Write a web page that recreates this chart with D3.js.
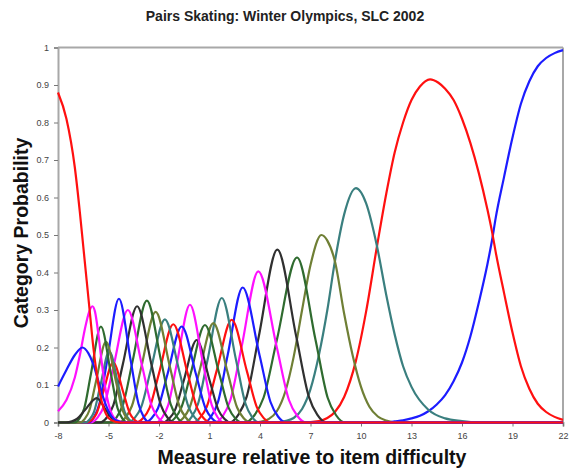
<!DOCTYPE html>
<html><head><meta charset="utf-8">
<script src="https://cdn.jsdelivr.net/npm/d3@7"></script>
<style>body{margin:0;background:#fff;} svg{display:block;}</style>
</head><body>
<svg id="chart" width="569" height="468"></svg>
<script>
const chartTitle = "Pairs Skating: Winter Olympics, SLC 2002";
const xTitle = "Measure relative to item difficulty";
const yTitle = "Category Probability";
const xTicks = [-8,-5,-2,1,4,7,10,13,16,19,22];
const xTickLabels = ["-8","-5","-2","1","4","7","10","13","16","19","22"];
const yTicks = [0,0.1,0.2,0.3,0.4,0.5,0.6,0.7,0.8,0.9,1];
const yTickLabels = ["0","0.1","0.2","0.3","0.4","0.5","0.6","0.7","0.8","0.9","1"];
const categories = [0,1,2,3,4,5,6,7,8,9,10,11,12,13,14,15,16,17,18,19,20,21,22,23,24,25,26,27,28,29];
const colorCycle = ["#ff1010","#1c1cff","#ff10ff","#303030","#2f6b2f","#6f7f35","#3a7f7f"];

// category probability curves: [measure, probability]
const cat0 = [[-8,.88],[-7.5,.81],[-7,.68],[-6.7,.56],[-6.5,.47],[-6.3,.38],[-6.1,.29],[-5.9,.2],[-5.7,.13],[-5.5,.075],[-5.3,.04],[-5,.012],[-4.6,.002],[-4.2,0],[22,0]];
const cat1 = [[-8,.096],[-7.5,.14],[-7,.18],[-6.55,.2],[-6.2,.185],[-5.9,.155],[-5.6,.11],[-5.3,.065],[-5,.03],[-4.7,.01],[-4.3,.002],[-3.9,0],[22,0]];
const cat2 = [[-8,.03],[-7.5,.06],[-7,.12],[-6.7,.18],[-6.4,.25],[-6.15,.295],[-5.96,.31],[-5.8,.295],[-5.6,.235],[-5.4,.16],[-5.2,.095],[-5,.05],[-4.8,.022],[-4.5,.006],[-4.1,0],[22,0]];
const cat3 = [[-8,0],[-7.52,0],[-7.17,.003],[-6.86,.01],[-6.4,.033],[-5.7,.065],[-5.15,.033],[-4.79,.01],[-4.55,.003],[-4.27,0],[22,0]];
const cat4 = [[-8,0],[-7.01,0],[-6.71,.0115],[-6.44,.038],[-6.05,.128],[-5.45,.256],[-4.85,.128],[-4.46,.038],[-4.19,.0115],[-3.89,0],[22,0]];
const cat5 = [[-8,0],[-6.71,0],[-6.41,.0097],[-6.14,.032],[-5.75,.108],[-5.15,.215],[-4.55,.108],[-4.16,.032],[-3.89,.0097],[-3.59,0],[22,0]];
const cat6 = [[-8,0],[-6.38,0],[-6.11,.0086],[-5.86,.0285],[-5.5,.095],[-4.95,.19],[-4.4,.095],[-4.04,.0285],[-3.79,.0086],[-3.52,0],[22,0]];
const cat7 = [[-8,0],[-6.28,0],[-5.98,.0072],[-5.71,.024],[-5.32,.08],[-4.72,.16],[-4.12,.08],[-3.73,.024],[-3.46,.0072],[-3.16,0],[22,0]];
const cat8 = [[-8,0],[-6.2,0],[-5.85,.015],[-5.54,.05],[-5.08,.165],[-4.38,.33],[-3.68,.165],[-3.22,.05],[-2.91,.015],[-2.56,0],[22,0]];
const cat9 = [[-8,0],[-6.06,0],[-5.64,.0135],[-5.26,.045],[-4.7,.15],[-3.85,.3],[-3,.15],[-2.44,.045],[-2.06,.0135],[-1.64,0],[22,0]];
const cat10 = [[-8,0],[-5.51,0],[-5.09,.014],[-4.71,.0465],[-4.15,.155],[-3.3,.31],[-2.45,.155],[-1.89,.0465],[-1.51,.014],[-1.09,0],[22,0]];
const cat11 = [[-8,0],[-4.93,0],[-4.51,.0146],[-4.13,.049],[-3.57,.163],[-2.72,.325],[-1.87,.163],[-1.31,.049],[-.93,.0146],[-.51,0],[22,0]];
const cat12 = [[-8,0],[-4.41,0],[-3.99,.0133],[-3.61,.044],[-3.05,.148],[-2.2,.295],[-1.35,.148],[-.79,.044],[-.41,.0133],[.01,0],[22,0]];
const cat13 = [[-8,0],[-3.86,0],[-3.44,.0124],[-3.06,.041],[-2.5,.138],[-1.65,.275],[-.8,.138],[-.24,.041],[.14,.0124],[.56,0],[22,0]];
const cat14 = [[-8,0],[-3.36,0],[-2.94,.0118],[-2.56,.039],[-2,.131],[-1.15,.262],[-.3,.131],[.26,.039],[.64,.0118],[1.06,0],[22,0]];
const cat15 = [[-8,0],[-2.86,0],[-2.44,.0115],[-2.06,.038],[-1.5,.128],[-.65,.256],[.2,.128],[.76,.038],[1.14,.0115],[1.56,0],[22,0]];
const cat16 = [[-8,0],[-2.19,0],[-1.8,.014],[-1.45,.047],[-.94,.157],[-.16,.314],[.62,.157],[1.13,.047],[1.48,.014],[1.87,0],[22,0]];
const cat17 = [[-8,0],[-1.79,0],[-1.4,.0099],[-1.05,.033],[-.54,.11],[.24,.22],[1.02,.11],[1.53,.033],[1.88,.0099],[2.27,0],[22,0]];
const cat18 = [[-8,0],[-1.48,0],[-1.06,.0117],[-.68,.039],[-.12,.13],[.73,.26],[1.58,.13],[2.14,.039],[2.52,.0117],[2.94,0],[22,0]];
const cat19 = [[-8,0],[-.98,0],[-.56,.0119],[-.18,.04],[.38,.133],[1.23,.265],[2.08,.133],[2.64,.04],[3.02,.0119],[3.44,0],[22,0]];
const cat20 = [[-8,0],[-.48,0],[-.06,.015],[.32,.05],[.88,.166],[1.73,.332],[2.58,.166],[3.14,.05],[3.52,.015],[3.94,0],[22,0]];
const cat21 = [[-8,0],[-.02,0],[.43,.0123],[.83,.041],[1.42,.137],[2.32,.274],[3.22,.137],[3.81,.041],[4.21,.0123],[4.66,0],[22,0]];
const cat22 = [[-8,0],[.66,0],[1.1,.016],[1.5,.054],[2.08,.18],[2.97,.36],[3.97,.18],[4.63,.054],[5.07,.016],[5.57,0],[22,0]];
const cat23 = [[-8,0],[1.3,0],[1.8,.018],[2.24,.06],[2.9,.2],[3.9,.403],[5,.2],[5.72,.06],[6.21,.018],[6.76,0],[22,0]];
const cat24 = [[-8,0],[2.17,0],[2.72,.021],[3.21,.069],[3.93,.23],[5.03,.461],[6.15,.23],[6.9,.069],[7.4,.021],[7.95,0],[22,0]];
const cat25 = [[-8,0],[3.08,0],[3.68,.02],[4.21,.066],[5,.22],[6.2,.44],[7.3,.22],[8.02,.066],[8.51,.02],[9.06,0],[22,0]];
const cat26 = [[-8,0],[3.6,0],[4,.002],[4.5,.009],[5,.03],[5.5,.082],[6,.175],[6.5,.3],[7,.42],[7.65,.5],[8,.485],[8.45,.43],[9,.29],[9.5,.18],[10,.095],[10.5,.042],[11,.016],[11.5,.005],[12,0],[22,0]];
const cat27 = [[-8,0],[5,0],[5.5,.004],[6,.012],[6.5,.036],[7,.089],[7.5,.18],[8,.3],[8.45,.43],[9,.555],[9.7,.625],[10.3,.585],[10.95,.47],[11.5,.34],[12,.235],[12.5,.15],[13,.095],[14,.034],[15,.011],[16,.004],[17,0],[22,0]];
const cat28 = [[-8,0],[6.5,0],[7.5,.004],[8,.012],[8.45,.028],[9,.068],[9.7,.165],[10.3,.295],[10.95,.47],[11.5,.61],[12,.72],[12.5,.8],[13,.86],[13.5,.896],[14.1,.915],[14.6,.906],[15,.89],[15.5,.86],[16,.81],[16.5,.745],[17,.665],[17.5,.57],[17.8,.505],[18,.455],[18.5,.345],[19,.24],[19.5,.15],[20,.09],[20.5,.05],[21,.028],[21.5,.015],[22,.007]];
const cat29 = [[-8,0],[11.5,0],[12,.003],[12.5,.006],[13,.011],[13.5,.018],[14,.03],[14.5,.048],[15,.073],[15.5,.11],[16,.16],[16.5,.23],[17,.32],[17.5,.42],[17.8,.49],[18,.545],[18.5,.655],[19,.76],[19.5,.85],[20,.91],[20.5,.95],[21,.972],[21.5,.985],[22,.993]];

const seriesList = [cat0,cat1,cat2,cat3,cat4,cat5,cat6,cat7,cat8,cat9,cat10,cat11,cat12,cat13,cat14,cat15,cat16,cat17,cat18,cat19,cat20,cat21,cat22,cat23,cat24,cat25,cat26,cat27,cat28,cat29];

const svg = d3.select("#chart");
const m = {left: 58, right: 563, top: 47.5, bottom: 422.5};
const x = d3.scaleLinear().domain([-8, 22]).range([m.left, m.right]);
const y = d3.scaleLinear().domain([0, 1]).range([m.bottom, m.top]);

svg.append("rect").attr("width",569).attr("height",468).attr("fill","#fff");

// frame (top and right)
const frame = "#a8a8a8";
svg.append("line").attr("x1",m.left).attr("x2",m.right).attr("y1",m.top).attr("y2",m.top).attr("stroke",frame).attr("stroke-width",2);
svg.append("line").attr("x1",m.right).attr("x2",m.right).attr("y1",m.top).attr("y2",m.bottom).attr("stroke",frame).attr("stroke-width",2);

const gy = svg.append("g").attr("transform",`translate(${m.left},0)`)
  .call(d3.axisLeft(y).tickValues(yTicks).tickFormat((d,i)=>yTickLabels[i]).tickSize(4).tickPadding(5));
const gx = svg.append("g").attr("transform",`translate(0,${m.bottom})`)
  .call(d3.axisBottom(x).tickValues(xTicks).tickFormat((d,i)=>xTickLabels[i]).tickSize(4).tickPadding(6));
[gx, gy].forEach(g => {
  g.select(".domain").attr("stroke",frame).attr("stroke-width",2);
  g.selectAll(".tick line").attr("stroke","#777").attr("stroke-width",1);
  g.selectAll(".tick text").attr("fill","#444").attr("font-family","Liberation Sans, Arial, sans-serif").attr("font-size",9);
});

const line = d3.line().x(d => x(d[0])).y(d => y(d[1])).curve(d3.curveMonotoneX);
const plot = svg.append("g");
for (let i = categories.length - 1; i >= 0; i--) {
  plot.append("path").datum(seriesList[i]).attr("d", line)
    .attr("fill","none").attr("stroke", colorCycle[categories[i] % colorCycle.length])
    .attr("stroke-width",2.2).attr("stroke-linejoin","round");
}

svg.append("text").attr("x",285).attr("y",21).attr("text-anchor","middle")
  .attr("font-family","Liberation Sans, Arial, sans-serif").attr("font-weight","bold").attr("font-size",14).attr("fill","#222").text(chartTitle);
svg.append("text").attr("x",312).attr("y",464).attr("text-anchor","middle")
  .attr("font-family","Liberation Sans, Arial, sans-serif").attr("font-weight","bold").attr("font-size",19.5).attr("fill","#111").text(xTitle);
svg.append("text").attr("transform","translate(28,233) rotate(-90)").attr("text-anchor","middle")
  .attr("font-family","Liberation Sans, Arial, sans-serif").attr("font-weight","bold").attr("font-size",19.5).attr("fill","#111").text(yTitle);
</script>
</body></html>
